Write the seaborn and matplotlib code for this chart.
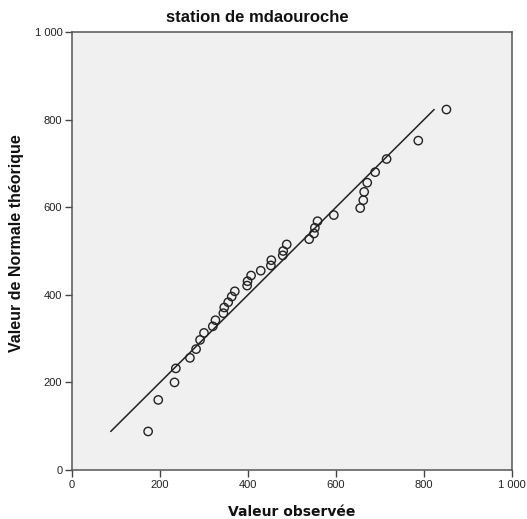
import matplotlib
matplotlib.use("Agg")
import matplotlib.pyplot as plt
import seaborn as sns
import pandas as pd

observed = [173, 196, 233, 236, 268, 282, 291, 300, 320, 326, 344, 346, 355, 363,
            370, 398, 399, 407, 429, 452, 453, 479, 480, 488, 539, 550, 552, 558,
            595, 655, 662, 664, 671, 689, 715, 787, 851]
theoretical = [88, 160, 200, 232, 256, 276, 297, 313, 328, 342, 358, 371, 383, 396,
               408, 421, 431, 444, 455, 467, 479, 490, 500, 515, 527, 540, 553, 568,
               582, 598, 616, 635, 656, 680, 710, 752, 823]
ref_line = [88, 823]
ticks = [0, 200, 400, 600, 800, 1000]
tick_labels = ["0", "200", "400", "600", "800", "1 000"]

sns.set_theme(style="white")
plt.rcParams['font.family'] = ['Liberation Sans', 'DejaVu Sans']

df = pd.DataFrame({"obs": observed, "theo": theoretical})
line_df = pd.DataFrame({"x": ref_line, "y": ref_line})

fig = plt.figure(figsize=(5.27, 5.19), dpi=100)
ax = fig.add_axes([72/527, 1-470/519, 440/527, 438/519])
ax.set_facecolor("#F0F0F0")

sns.lineplot(data=line_df, x="x", y="y", ax=ax, color="#222222", linewidth=1.1)
sns.scatterplot(data=df, x="obs", y="theo", ax=ax, marker="o", s=36,
                facecolor="none", edgecolor="#222222", linewidth=1.0)

ax.set_xlim(0, 1000)
ax.set_ylim(0, 1000)
ax.set_xticks(ticks)
ax.set_xticklabels(tick_labels)
ax.set_yticks(ticks)
ax.set_yticklabels(tick_labels)
ax.tick_params(axis="both", which="major", direction="out", length=5, width=1,
               color="#444444", labelsize=8, labelcolor="#222222", pad=2,
               bottom=True, left=True)
for s in ax.spines.values():
    s.set_color("#555555")
    s.set_linewidth(1.1)

ax.set_xlabel("Valeur observée", fontsize=10, fontweight="bold",
              family=["DejaVu Sans"], color="#111111")
ax.xaxis.set_label_coords((292 - 72) / 440, (470 - 512) / 438)
ax.xaxis.label.set_va("center")
ax.set_ylabel("Valeur de Normale théorique", fontsize=11.5, fontweight="bold",
              color="#111111")
ax.yaxis.set_label_coords((16 - 72) / 440, (470 - 243) / 438)
ax.yaxis.label.set_va("center")
fig.text(257 / 527, 1 - 17 / 519, "station de mdaouroche", fontsize=12,
         fontweight="bold", ha="center", va="center", color="#111111")

fig.savefig("out.png", dpi=100)
